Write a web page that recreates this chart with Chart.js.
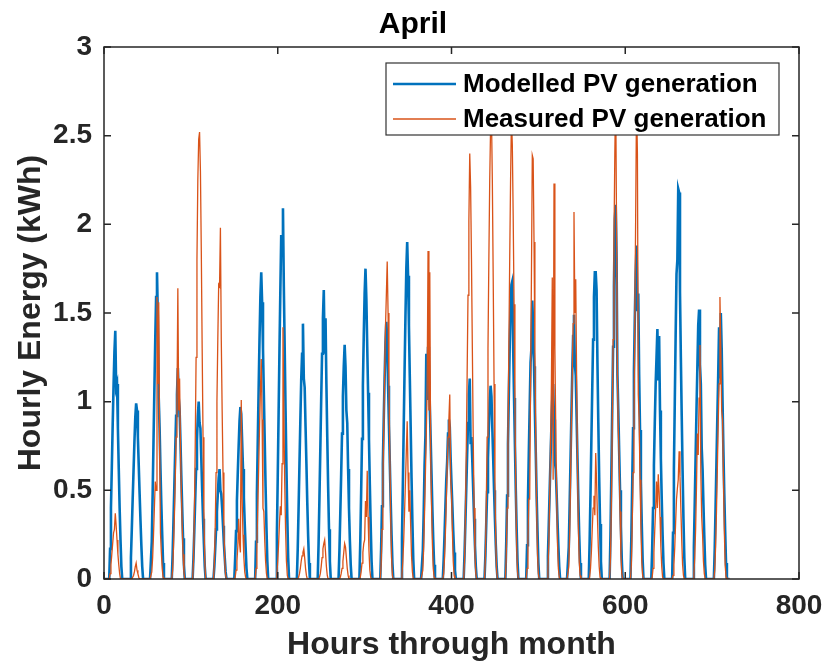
<!DOCTYPE html>
<html>
<head>
<meta charset="utf-8">
<title>April</title>
<script src="https://cdn.jsdelivr.net/npm/chart.js@4.4.1/dist/chart.umd.min.js"></script>
<style>
    html, body { margin: 0; padding: 0; background: #fff; }
    #wrap { width: 826px; height: 666px; }
</style>
</head>
<body>
<div id="wrap"><canvas id="myChart" width="826" height="666"></canvas></div>
<script>
'use strict';

// each row = one day of April, hourly kWh for hours 5..21 (night hours are 0)
let firstHour = 5;
let modelledDays = [
    [0, 0.17, 0.40, 0.63, 0.87, 1.09, 1.28, 1.40, 1.08, 1.10, 0.85, 0.62, 0.40, 0.22, 0.07, 0, 0],
    [0, 0.12, 0.28, 0.45, 0.61, 0.77, 0.91, 0.99, 0.95, 0.80, 0.64, 0.48, 0.33, 0.19, 0.07, 0, 0],
    [0, 0.21, 0.48, 0.78, 1.07, 1.35, 1.59, 1.73, 1.48, 1.02, 0.85, 0.62, 0.42, 0.25, 0.09, 0, 0],
    [0, 0.14, 0.33, 0.53, 0.73, 0.92, 1.04, 1.19, 1.02, 0.96, 0.78, 0.58, 0.40, 0.23, 0.08, 0, 0],
    [0, 0.12, 0.28, 0.45, 0.62, 0.78, 0.92, 1.00, 0.88, 0.85, 0.68, 0.50, 0.34, 0.20, 0.07, 0, 0],
    [0, 0.07, 0.17, 0.28, 0.38, 0.48, 0.57, 0.62, 0.50, 0.48, 0.40, 0.30, 0.20, 0.12, 0.04, 0, 0],
    [0, 0.12, 0.27, 0.44, 0.60, 0.75, 0.89, 0.97, 0.93, 0.78, 0.62, 0.46, 0.31, 0.18, 0.06, 0, 0],
    [0, 0.21, 0.48, 0.78, 1.07, 1.35, 1.59, 1.73, 1.56, 1.30, 1.04, 0.78, 0.52, 0.29, 0.10, 0, 0],
    [0, 0.25, 0.58, 0.94, 1.30, 1.63, 1.94, 1.84, 2.09, 1.65, 1.30, 0.95, 0.63, 0.35, 0.12, 0, 0],
    [0, 0.17, 0.40, 0.65, 0.89, 1.12, 1.27, 1.44, 1.13, 1.08, 0.86, 0.65, 0.43, 0.24, 0.09, 0, 0],
    [0, 0.20, 0.46, 0.73, 1.01, 1.27, 1.47, 1.63, 1.27, 1.47, 1.10, 0.80, 0.52, 0.28, 0.10, 0, 0],
    [0, 0.16, 0.37, 0.59, 0.82, 1.03, 1.20, 1.32, 1.20, 0.95, 0.88, 0.62, 0.40, 0.22, 0.08, 0, 0],
    [0, 0.21, 0.49, 0.79, 1.09, 1.37, 1.61, 1.75, 1.58, 1.31, 1.05, 0.79, 0.53, 0.30, 0.10, 0, 0],
    [0, 0.17, 0.41, 0.65, 0.90, 1.13, 1.33, 1.45, 1.35, 1.09, 0.87, 0.65, 0.44, 0.25, 0.09, 0, 0],
    [0, 0.23, 0.53, 0.86, 1.18, 1.48, 1.75, 1.90, 1.71, 1.43, 1.14, 0.86, 0.57, 0.32, 0.11, 0, 0],
    [0, 0.16, 0.37, 0.64, 0.81, 1.27, 1.01, 1.31, 1.24, 0.98, 0.79, 0.59, 0.39, 0.22, 0.08, 0, 0],
    [0, 0.11, 0.25, 0.41, 0.56, 0.66, 0.82, 0.90, 0.86, 0.68, 0.54, 0.41, 0.27, 0.15, 0.05, 0, 0],
    [0, 0.14, 0.32, 0.51, 0.70, 0.88, 1.04, 1.13, 0.76, 0.80, 0.66, 0.50, 0.34, 0.19, 0.07, 0, 0],
    [0, 0.13, 0.31, 0.49, 0.68, 0.85, 1.00, 1.09, 1.03, 0.85, 0.68, 0.50, 0.34, 0.19, 0.07, 0, 0],
    [0, 0.20, 0.47, 0.76, 1.04, 1.31, 1.54, 1.66, 1.68, 1.30, 1.02, 0.76, 0.50, 0.28, 0.10, 0, 0],
    [0, 0.19, 0.44, 0.71, 0.97, 1.22, 1.30, 1.57, 1.43, 1.20, 0.94, 0.71, 0.47, 0.27, 0.09, 0, 0],
    [0, 0.13, 0.31, 0.50, 0.68, 0.86, 1.01, 1.10, 0.90, 0.66, 0.62, 0.48, 0.33, 0.19, 0.07, 0, 0],
    [0, 0.18, 0.42, 0.67, 0.92, 1.16, 1.37, 1.49, 1.21, 1.15, 0.92, 0.68, 0.45, 0.25, 0.09, 0, 0],
    [0, 0.21, 0.48, 0.78, 1.07, 1.35, 1.59, 1.73, 1.73, 1.63, 1.22, 0.88, 0.57, 0.31, 0.10, 0, 0],
    [0, 0.25, 0.59, 0.95, 1.31, 1.65, 2.03, 2.11, 1.81, 1.15, 0.95, 0.72, 0.50, 0.30, 0.11, 0, 0],
    [0, 0.23, 0.53, 0.85, 1.17, 1.47, 1.72, 1.88, 1.51, 1.61, 1.15, 0.84, 0.55, 0.31, 0.11, 0, 0],
    [0, 0.17, 0.40, 0.64, 0.88, 1.10, 1.25, 1.41, 1.12, 1.37, 0.95, 0.68, 0.45, 0.25, 0.09, 0, 0],
    [0, 0.26, 0.62, 0.99, 1.37, 1.72, 1.80, 2.20, 2.18, 1.62, 1.25, 0.92, 0.61, 0.34, 0.12, 0, 0],
    [0, 0.18, 0.43, 0.69, 0.95, 1.19, 1.43, 1.52, 1.21, 1.10, 0.74, 0.62, 0.42, 0.24, 0.08, 0, 0],
    [0, 0.17, 0.41, 0.66, 0.91, 1.15, 1.42, 1.13, 1.50, 1.30, 1.00, 0.72, 0.48, 0.27, 0.09, 0, 0]
];
let measuredDays = [
    [0, 0.03, 0.08, 0.14, 0.20, 0.26, 0.28, 0.37, 0.30, 0.22, 0.14, 0.08, 0.03, 0, 0, 0, 0],
    [0, 0, 0, 0.01, 0.02, 0.04, 0.07, 0.09, 0.05, 0.03, 0.01, 0, 0, 0, 0, 0, 0],
    [0, 0.04, 0.12, 0.25, 0.40, 0.55, 0.50, 1.59, 1.10, 1.56, 0.75, 0.26, 0.15, 0.06, 0.01, 0, 0],
    [0, 0.05, 0.18, 0.35, 0.55, 0.80, 1.00, 1.64, 0.95, 1.13, 0.75, 0.50, 0.30, 0.14, 0.04, 0, 0],
    [0, 0.10, 0.35, 0.75, 1.25, 1.80, 2.25, 2.48, 2.52, 2.30, 1.85, 1.30, 0.80, 0.38, 0.10, 0, 0],
    [0, 0.08, 0.28, 0.60, 1.00, 1.35, 1.66, 1.65, 1.98, 1.35, 0.95, 0.60, 0.30, 0.10, 0.02, 0, 0],
    [0, 0.01, 0.05, 0.10, 0.18, 0.34, 0.20, 0.15, 1.01, 0.45, 0.25, 0.12, 0.04, 0.01, 0, 0, 0],
    [0, 0.06, 0.20, 0.40, 0.62, 0.85, 1.05, 1.24, 0.90, 0.40, 0.38, 0.22, 0.10, 0.03, 0, 0, 0],
    [0, 0.03, 0.10, 0.20, 0.32, 0.41, 0.36, 0.65, 1.42, 0.95, 0.55, 0.28, 0.10, 0.02, 0, 0, 0],
    [0, 0, 0.01, 0.03, 0.06, 0.10, 0.13, 0.15, 0.17, 0.12, 0.06, 0.02, 0, 0, 0, 0, 0],
    [0, 0, 0.01, 0.03, 0.07, 0.12, 0.17, 0.20, 0.22, 0.15, 0.07, 0.02, 0, 0, 0, 0, 0],
    [0, 0, 0.01, 0.03, 0.06, 0.10, 0.15, 0.20, 0.18, 0.12, 0.06, 0.02, 0, 0, 0, 0, 0],
    [0, 0.01, 0.04, 0.09, 0.15, 0.20, 0.22, 0.44, 0.35, 0.61, 0.35, 0.16, 0.05, 0.01, 0, 0, 0],
    [0, 0.08, 0.28, 0.55, 0.85, 1.15, 1.42, 1.60, 1.79, 1.50, 1.10, 0.70, 0.35, 0.12, 0.02, 0, 0],
    [0, 0.03, 0.10, 0.22, 0.38, 0.55, 0.72, 0.89, 0.60, 0.38, 0.50, 0.30, 0.13, 0.04, 0, 0, 0],
    [0, 0.05, 0.18, 0.38, 0.60, 0.82, 1.10, 1.85, 0.95, 1.73, 0.70, 0.42, 0.20, 0.06, 0.01, 0, 0],
    [0, 0.03, 0.12, 0.26, 0.44, 0.62, 0.80, 0.90, 1.04, 0.57, 0.48, 0.27, 0.10, 0.02, 0, 0, 0],
    [0, 0.10, 0.35, 0.72, 1.15, 1.60, 2.02, 2.40, 2.21, 1.80, 1.30, 0.80, 0.40, 0.14, 0.03, 0, 0],
    [0, 0.12, 0.40, 0.80, 1.30, 1.80, 2.25, 2.55, 2.62, 2.25, 1.70, 1.10, 0.55, 0.20, 0.04, 0, 0],
    [0, 0.12, 0.40, 0.80, 1.30, 1.80, 2.25, 2.60, 2.45, 2.05, 1.55, 1.00, 0.50, 0.18, 0.04, 0, 0],
    [0, 0.06, 0.22, 0.45, 0.45, 1.10, 1.70, 2.39, 2.37, 1.90, 1.30, 0.80, 0.40, 0.14, 0.03, 0, 0],
    [0, 0.05, 0.20, 0.45, 0.75, 1.10, 1.70, 0.56, 2.23, 1.30, 0.85, 0.48, 0.20, 0.06, 0.01, 0, 0],
    [0, 0.07, 0.25, 0.55, 0.90, 1.15, 1.44, 2.07, 1.50, 1.69, 1.15, 0.65, 0.30, 0.10, 0.02, 0, 0],
    [0, 0.01, 0.06, 0.15, 0.28, 0.40, 0.47, 0.36, 0.71, 0.55, 0.35, 0.18, 0.07, 0.01, 0, 0, 0],
    [0, 0.12, 0.42, 0.85, 1.35, 1.90, 2.40, 2.75, 1.97, 1.15, 0.84, 0.69, 0.38, 0.14, 0.03, 0, 0],
    [0, 0.08, 0.30, 0.60, 0.81, 1.45, 2.05, 2.70, 2.40, 1.04, 0.90, 0.56, 0.30, 0.10, 0.02, 0, 0],
    [0, 0.01, 0.06, 0.15, 0.28, 0.40, 0.55, 0.40, 0.59, 0.49, 0.35, 0.18, 0.07, 0.01, 0, 0, 0],
    [0, 0.02, 0.08, 0.18, 0.32, 0.45, 0.51, 0.56, 0.72, 0.58, 0.40, 0.22, 0.08, 0.02, 0, 0, 0],
    [0, 0.03, 0.12, 0.28, 0.52, 0.82, 0.70, 1.02, 1.32, 0.60, 0.35, 0.25, 0.10, 0.03, 0, 0, 0],
    [0, 0.05, 0.18, 0.38, 0.62, 0.88, 1.10, 1.59, 1.30, 0.95, 0.90, 0.58, 0.28, 0.08, 0.01, 0, 0]
];
let seriesNames = ['Modelled PV generation', 'Measured PV generation'];
let seriesColors = ['#0072BD', '#D95319'];
let xTicks = [0, 200, 400, 600, 800];
let yTicks = [0, 0.5, 1, 1.5, 2, 2.5, 3];

let axisColor = '#262626';
let fontFamily = '"Liberation Sans", Arial, Helvetica, sans-serif';


// turn the day rows into one point per hour of the month
function toHourly(days) {
    let points = [];
    for (let d = 0; d < days.length; d++) {
        for (let h = 0; h < 24; h++) {
            let k = h - firstHour;
            let v = (k >= 0 && k < days[d].length) ? days[d][k] : 0;
            points.push({ x: d * 24 + h + 1, y: v });
        }
    }
    return points;
}


// MATLAB style box, inward ticks and legend
let matlabFrame = {
    id: 'matlabFrame',
    afterDraw(chart) {
        let ctx = chart.ctx;
        let area = chart.chartArea;
        let xs = chart.scales.x;
        let ys = chart.scales.y;
        let len = 7;

        ctx.save();
        ctx.strokeStyle = axisColor;
        ctx.lineWidth = 1.5;
        ctx.strokeRect(area.left, area.top, area.right - area.left, area.bottom - area.top);

        ctx.beginPath();
        for (let i = 0; i < xTicks.length; i++) {
            let px = xs.getPixelForValue(xTicks[i]);
            ctx.moveTo(px, area.bottom);
            ctx.lineTo(px, area.bottom - len);
            ctx.moveTo(px, area.top);
            ctx.lineTo(px, area.top + len);
        }
        for (let i = 0; i < yTicks.length; i++) {
            let py = ys.getPixelForValue(yTicks[i]);
            ctx.moveTo(area.left, py);
            ctx.lineTo(area.left + len, py);
            ctx.moveTo(area.right, py);
            ctx.lineTo(area.right - len, py);
        }
        ctx.stroke();

        // legend box
        let bx = 386, by = 63, bw = 393, bh = 72;
        ctx.fillStyle = '#fff';
        ctx.fillRect(bx, by, bw, bh);
        ctx.strokeStyle = '#333';
        ctx.lineWidth = 1.2;
        ctx.strokeRect(bx, by, bw, bh);

        let rows = [84, 119];
        let widths = [2.4, 1.3];
        ctx.font = 'bold 26px ' + fontFamily;
        ctx.textBaseline = 'middle';
        ctx.textAlign = 'left';
        for (let i = 0; i < seriesNames.length; i++) {
            ctx.strokeStyle = seriesColors[i];
            ctx.lineWidth = widths[i];
            ctx.beginPath();
            ctx.moveTo(393, rows[i]);
            ctx.lineTo(456, rows[i]);
            ctx.stroke();
            ctx.fillStyle = '#000';
            ctx.fillText(seriesNames[i], 463, rows[i] + 1);
        }
        ctx.restore();
    }
};


let ctx = document.getElementById('myChart').getContext('2d');

let myChart = new Chart(ctx, {
    type: 'line',
    data: {
        datasets: [{
            label: seriesNames[0],
            data: toHourly(modelledDays),
            borderColor: seriesColors[0],
            borderWidth: 2.6,
            pointRadius: 0,
            tension: 0,
            order: 1
        }, {
            label: seriesNames[1],
            data: toHourly(measuredDays),
            borderColor: seriesColors[1],
            borderWidth: 1.3,
            pointRadius: 0,
            tension: 0,
            order: 0
        }]
    },
    options: {
        responsive: false,
        animation: false,
        devicePixelRatio: 1,
        layout: { padding: { left: 0, right: 0, top: 0, bottom: 0 } },
        plugins: {
            legend: { display: false },
            tooltip: { enabled: false },
            title: {
                display: true,
                text: 'April',
                color: '#000',
                font: { family: fontFamily, size: 30, weight: 'bold' },
                padding: { top: 7, bottom: 4 }
            }
        },
        scales: {
            x: {
                type: 'linear',
                min: 0,
                max: 800,
                grid: { display: false, drawTicks: false },
                border: { display: false },
                ticks: {
                    stepSize: 200,
                    color: axisColor,
                    padding: 10,
                    maxRotation: 0,
                    font: { family: fontFamily, size: 28, weight: 'bold' }
                },
                title: {
                    display: true,
                    text: 'Hours through month',
                    color: axisColor,
                    font: { family: fontFamily, size: 32, weight: 'bold' },
                    padding: { top: 0, bottom: 2 }
                },
                afterFit(scale) {
                    scale.height = 87;
                    scale.paddingLeft = 0;
                    scale.paddingRight = 27;
                }
            },
            y: {
                min: 0,
                max: 3,
                grid: { display: false, drawTicks: false },
                border: { display: false },
                ticks: {
                    stepSize: 0.5,
                    color: axisColor,
                    padding: 12,
                    font: { family: fontFamily, size: 28, weight: 'bold' },
                    callback: function (value) { return String(value); }
                },
                title: {
                    display: true,
                    text: 'Hourly Energy (kWh)',
                    color: axisColor,
                    font: { family: fontFamily, size: 32, weight: 'bold' },
                    padding: { top: 12, bottom: 0 }
                },
                afterFit(scale) { scale.width = 104; }
            }
        }
    },
    plugins: [matlabFrame]
});
</script>
</body>
</html>
